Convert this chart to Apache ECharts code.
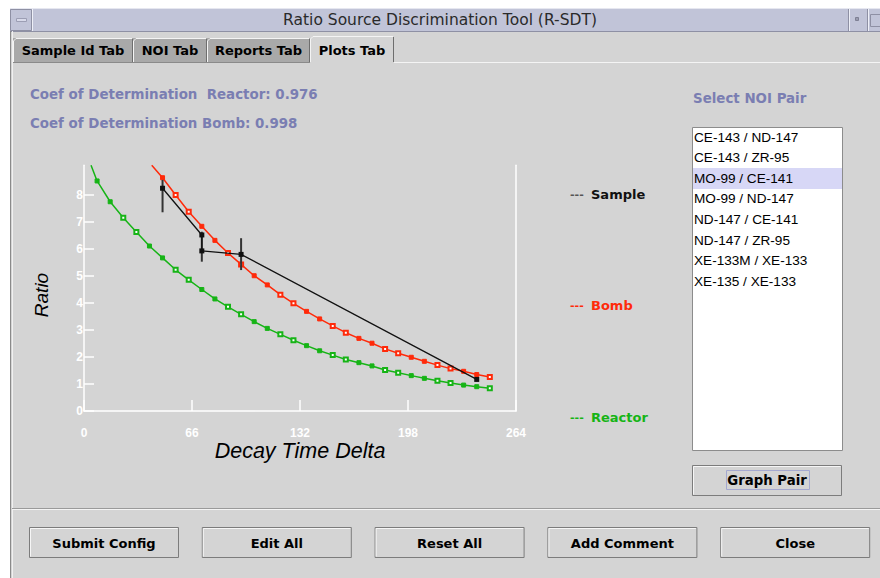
<!DOCTYPE html>
<html>
<head>
<meta charset="utf-8">
<script src="https://cdn.jsdelivr.net/npm/echarts@6/dist/echarts.min.js"></script>
<style>
html,body{margin:0;padding:0;background:#ffffff;}
#chart{width:880px;height:578px;}
</style>
</head>
<body>
<div id="chart"></div>
<script>
// ---- data ----
const xTicks = [0, 66, 132, 198, 264];
const yTicks = [0, 1, 2, 3, 4, 5, 6, 7, 8];

const reactorX = [8,16,24,32,40,48,56,64,72,80,88,96,104,112,120,128,136,144,152,160,168,176,184,192,200,208,216,224,232,240,248];
const reactorY = [8.52,7.75,7.16,6.63,6.11,5.67,5.23,4.86,4.50,4.15,3.86,3.58,3.31,3.06,2.84,2.62,2.42,2.23,2.07,1.91,1.79,1.67,1.52,1.42,1.31,1.21,1.12,1.04,0.96,0.90,0.84];
const reactorLead = [4.3, 9.1];   // where the fitted curve leaves the top of the plot

const bombX = [48,56,64,72,80,88,96,104,112,120,128,136,144,152,160,168,176,184,192,200,208,216,224,232,240,248];
const bombY = [8.64,8.00,7.38,6.84,6.32,5.85,5.43,5.01,4.67,4.31,3.99,3.69,3.41,3.15,2.90,2.69,2.51,2.30,2.14,1.99,1.84,1.70,1.57,1.47,1.35,1.26];
const bombLead = [41.4, 9.1];

const sampleX = [48, 72, 72, 96, 240];
const sampleY = [8.25, 6.52, 5.93, 5.80, 1.17];
const sampleLow = [7.36, 5.53, null, 5.22, 1.10];
const sampleHigh = [8.56, 6.64, null, 6.40, 1.25];

const noiPairs = ['CE-143 / ND-147','CE-143 / ZR-95','MO-99 / CE-141','MO-99 / ND-147','ND-147 / CE-141','ND-147 / ZR-95','XE-133M / XE-133','XE-135 / XE-133'];
const selectedPair = 2;
const tabs = ['Sample Id Tab','NOI Tab','Reports Tab','Plots Tab'];
const buttons = ['Submit Config','Edit All','Reset All','Add Comment','Close'];
const coefReactor = '0.976';
const coefBomb = '0.998';

// ---- styles ----
const BG = '#d4d4d4';
const RED = '#ff2a0a';
const GREEN = '#16b416';
const FONT = '"Liberation Sans", Arial, sans-serif';
const WFONT = '"DejaVu Sans", Verdana, sans-serif';

function pts(xs, ys){ return xs.map((x,i)=>[x, ys[i]]); }

const reactorData = [{value: reactorLead, symbol: 'none'}].concat(
  pts(reactorX, reactorY).map((p,i)=>({value:p, symbol: (i%4===2||i%4===3)?'emptyRect':'rect'})));
const bombData = [{value: bombLead, symbol: 'none'}].concat(
  pts(bombX, bombY).map((p,i)=>({value:p, symbol: (i%4===1||i%4===2)?'emptyRect':'rect'})));
const sampleData = pts(sampleX, sampleY);
const errData = [];
sampleX.forEach((x,i)=>{ if(sampleLow[i]!==null) errData.push([x, sampleLow[i], sampleHigh[i]]); });

// ---- GUI chrome as graphic elements ----
const g = [];
function rect(x,y,w,h,fill,stroke,lw,z){ g.push({type:'rect', shape:{x,y,width:w,height:h}, style:{fill:fill||'none', stroke:stroke||null, lineWidth:lw||1}, z: z||0, silent:true}); }
function line(x1,y1,x2,y2,color,lw,z){ g.push({type:'line', shape:{x1,y1,x2,y2}, style:{stroke:color, lineWidth:lw||1}, z:z||1, silent:true}); }
function text(t,x,y,opt,extra){ g.push(Object.assign({type:'text', x, y, style:Object.assign({text:t, fontFamily:FONT, fontSize:13, fill:'#000', align:'left', verticalAlign:'middle'}, opt||{}), z:5, silent:true}, extra||{})); }
const B = (size, color) => ({fontFamily:WFONT, fontWeight:'bold', fontSize:size, fill:color||'#000'});

// window body
rect(10, 8, 870, 570, BG);
// title bar
rect(10, 8, 870, 23, '#c1c4d8');
line(10, 8.5, 880, 8.5, '#e6e7f0', 1);
line(10, 31.5, 880, 31.5, '#8e90a4', 1);
rect(10.5, 9.5, 21, 21, 'none', '#8e90a4', 1);
line(32.5, 9, 32.5, 31, '#eef0f8', 1);
rect(16.5, 18.5, 10, 3, '#d8daea', '#9c9eb4', 1);
line(848.5, 9, 848.5, 31, '#8e90a4', 1);
line(849.5, 9, 849.5, 31, '#eef0f8', 1);
rect(855.5, 17.5, 3, 3, '#9a9cb0', '#7e8094', 1);
line(867.5, 9, 867.5, 31, '#8e90a4', 1);
line(868.5, 9, 868.5, 31, '#eef0f8', 1);
rect(870.5, 14.5, 12, 12, 'none', '#8e90a4', 1);
text('Ratio Source Discrimination Tool (R-SDT)', 440, 20, {align:'center', fontFamily:WFONT, fontSize:15.5, fill:'#2a2a2a'});
// left window edge
line(10.5, 31, 10.5, 578, '#8a8a8a', 1);
line(12.5, 31, 12.5, 578, '#f0f0f0', 1);

// tabs
const tabX = [13, 133, 207, 310, 394];
tabs.forEach((t,i)=>{
  const x0 = tabX[i], x1 = tabX[i+1];
  const sel = i === 3;
  const top = sel ? 36 : 38;
  rect(x0, top, x1-x0, 62-top, sel ? BG : '#a9a9a9');
  line(x0+0.5, top+3, x0+0.5, 62, '#f4f4f4', 1);
  line(x0+3, top+0.5, x1-1, top+0.5, '#f4f4f4', 1);
  line(x0+0.5, top+3, x0+3, top+0.5, '#f4f4f4', 1);
  line(x1-0.5, top+1, x1-0.5, 62, '#6e6e6e', 1);
  text(t, (x0+x1)/2, 50, Object.assign(B(13), {align:'center'}));
});
line(394, 62.5, 880, 62.5, '#f4f4f4', 1);
line(13, 62.5, 310, 62.5, '#8a8a8a', 1);

// coefficient labels
text('Coef of Determination  Reactor: ' + coefReactor, 30, 94, B(13.4, '#7a7eb2'));
text('Coef of Determination Bomb: ' + coefBomb, 30, 123, B(13.4, '#7a7eb2'));

// series legends
text('---', 570, 194, B(11, '#555'));
text('Sample', 591, 194, B(13, '#111'));
text('---', 570, 305, B(11, RED));
text('Bomb', 591, 305, B(13, RED));
text('---', 570, 417, B(11, GREEN));
text('Reactor', 591, 417, B(13, GREEN));

// NOI pair list
text('Select NOI Pair', 693, 98, B(13.4, '#7a7eb2'));
rect(692.5, 127.5, 150, 323, '#ffffff', '#8c8c8c', 1);
rect(693, 168, 149, 21, '#d7d7f6');
noiPairs.forEach((p,i)=>{
  text(p, 694, 137 + i*20.6, {fontSize:13.6, fill:'#000'});
});

// Graph Pair button
rect(692.5, 465.5, 149, 30, BG, '#7c7c7c', 1);
line(693.5, 466.5, 840.5, 466.5, '#f6f6f6', 1);
line(693.5, 466.5, 693.5, 494.5, '#f6f6f6', 1);
rect(726.5, 470.5, 83, 19, 'none', '#a4a8d0', 1);
text('Graph Pair', 767, 480.5, Object.assign(B(13.3), {align:'center'}));

// bottom separator and buttons
line(12, 508.5, 880, 508.5, '#9a9a9a', 1);
line(12, 509.5, 880, 509.5, '#f4f4f4', 1);
buttons.forEach((b,i)=>{
  const x0 = 29 + i*172.8;
  rect(x0+0.5, 527.5, 149, 30, BG, '#7c7c7c', 1);
  line(x0+1.5, 528.5, x0+148.5, 528.5, '#f6f6f6', 1);
  line(x0+1.5, 528.5, x0+1.5, 556.5, '#f6f6f6', 1);
  text(b, x0+75, 543, Object.assign(B(13), {align:'center'}));
});

// y-axis title
text('Ratio', 41, 295, {align:'center', fontStyle:'italic', fontSize:19, fill:'#000'}, {rotation: Math.PI/2});

// ---- chart ----
const chart = echarts.init(document.getElementById('chart'), null, {renderer:'svg'});
const axisLine = {show:true, lineStyle:{color:'#ffffff', width:1.5}};
chart.setOption({
  animation: false,
  backgroundColor: 'transparent',
  graphic: g,
  grid: {left:84, top:165.3, width:432, height:245.7, show:false},
  xAxis: {
    type:'value', min:0, max:264, interval:66,
    name:'Decay Time Delta', nameLocation:'middle', nameGap:25,
    nameTextStyle:{color:'#000', fontStyle:'italic', fontSize:21.5, fontFamily:FONT},
    axisLine: axisLine,
    axisTick:{show:true, inside:true, length:11, lineStyle:{color:'#ffffff', width:1.5}},
    axisLabel:{color:'#ffffff', fontWeight:'bold', fontSize:12, fontFamily:FONT, margin:16, customValues: xTicks},
    splitLine:{show:false}
  },
  yAxis: [{
    type:'value', min:0, max:9.1, interval:1,
    axisLine: axisLine,
    axisTick:{show:true, inside:true, length:10, lineStyle:{color:'#ffffff', width:1.5}, customValues: yTicks},
    axisLabel:{color:'#ffffff', fontWeight:'bold', fontSize:12, fontFamily:FONT, margin:1, customValues: yTicks},
    splitLine:{show:false}
  },{
    type:'value', min:0, max:9.1, position:'right',
    axisLine: axisLine, axisTick:{show:false}, axisLabel:{show:false}, splitLine:{show:false}
  }],
  series: [
    {type:'line', name:'Reactor', data:reactorData, symbolSize:4, clip:true,
     lineStyle:{color:GREEN, width:1.5}, itemStyle:{color:GREEN, borderColor:GREEN}, z:3},
    {type:'line', name:'Bomb', data:bombData, symbolSize:4, clip:true,
     lineStyle:{color:RED, width:1.5}, itemStyle:{color:RED, borderColor:RED}, z:3},
    {type:'custom', name:'Sample error', data:errData, z:4,
     renderItem: function(params, api){
       const x = api.value(0);
       const p1 = api.coord([x, api.value(1)]);
       const p2 = api.coord([x, api.value(2)]);
       return {type:'line', shape:{x1:p1[0], y1:p1[1], x2:p2[0], y2:p2[1]}, style:{stroke:'#333', lineWidth:2}};
     }},
    {type:'line', name:'Sample', data:sampleData, symbol:'rect', symbolSize:5, clip:true,
     lineStyle:{color:'#111', width:1.3}, itemStyle:{color:'#111'}, z:5}
  ]
});
</script>
</body>
</html>
